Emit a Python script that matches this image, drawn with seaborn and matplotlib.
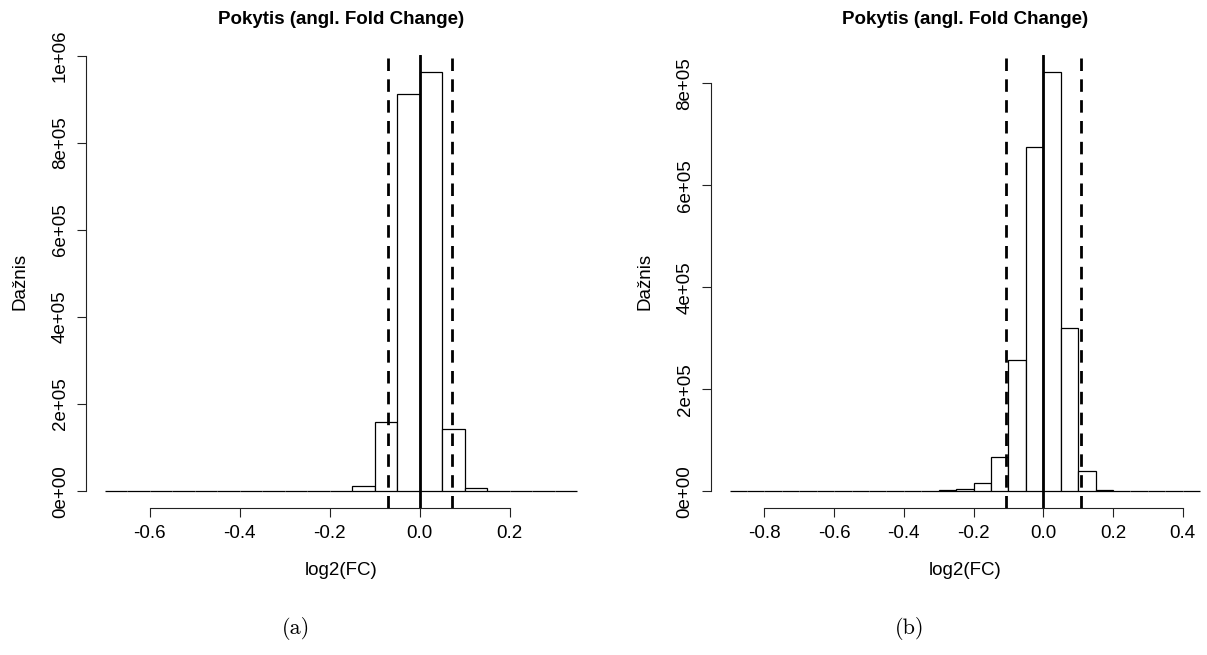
import matplotlib
matplotlib.use('Agg')
import matplotlib.pyplot as plt
import seaborn as sns

# histogram breaks and counts (bin width 0.05)
breaks_a = [-0.70, -0.65, -0.60, -0.55, -0.50, -0.45, -0.40, -0.35, -0.30, -0.25, -0.20,
            -0.15, -0.10, -0.05, 0.00, 0.05, 0.10, 0.15, 0.20, 0.25, 0.30, 0.35]
counts_a = [0, 0, 0, 0, 0, 0, 0, 0, 0, 20, 1500,
            11500, 159000, 912000, 963000, 143000, 7000, 600, 50, 0, 0]
cutoffs_a = [-0.0716, 0.0716]
xticks_a = [-0.6, -0.4, -0.2, 0.0, 0.2]
yticks_a = [0, 200000, 400000, 600000, 800000, 1000000]
ylabels_a = ['0e+00', '2e+05', '4e+05', '6e+05', '8e+05', '1e+06']

breaks_b = [-0.90, -0.85, -0.80, -0.75, -0.70, -0.65, -0.60, -0.55, -0.50, -0.45, -0.40,
            -0.35, -0.30, -0.25, -0.20, -0.15, -0.10, -0.05, 0.00, 0.05, 0.10, 0.15,
            0.20, 0.25, 0.30, 0.35, 0.40, 0.45]
counts_b = [0, 0, 0, 0, 0, 0, 0, 0, 0, 0, 0,
            100, 1500, 5300, 16500, 67500, 257000, 674500, 823000, 319600, 40000, 3300,
            300, 20, 0, 0, 0]
cutoffs_b = [-0.108, 0.108]
xticks_b = [-0.8, -0.6, -0.4, -0.2, 0.0, 0.2, 0.4]
yticks_b = [0, 200000, 400000, 600000, 800000]
ylabels_b = ['0e+00', '2e+05', '4e+05', '6e+05', '8e+05']

title = 'Pokytis (angl. Fold Change)'
xlab = 'log2(FC)'
ylab = 'Dažnis'

sns.set_style('white')
plt.rcParams['font.family'] = ['Liberation Sans', 'DejaVu Sans']
plt.rcParams['text.color'] = 'black'
plt.rcParams['axes.labelcolor'] = 'black'
plt.rcParams['xtick.color'] = 'black'
plt.rcParams['ytick.color'] = 'black'

fig = plt.figure(figsize=(12.07, 6.55), dpi=100)
W, H = 1207, 655
FS = 13.5


def panel(rect, breaks, counts, cutoffs, xticks, yticks, ylabels):
    ax = fig.add_axes([rect[0] / W, 1 - rect[3] / H, (rect[2] - rect[0]) / W, (rect[3] - rect[1]) / H])
    mids = [(breaks[i] + breaks[i + 1]) / 2 for i in range(len(counts))]
    sns.histplot(x=mids, weights=counts, bins=breaks, ax=ax, color='white',
                 edgecolor='black', linewidth=0.9, alpha=1)
    # R style 4% axis extension
    span = breaks[-1] - breaks[0]
    ax.set_xlim(breaks[0] - 0.04 * span, breaks[-1] + 0.04 * span)
    ymax = max(counts)
    ax.set_ylim(-0.04 * ymax, 1.04 * ymax)
    for c in cutoffs:
        ax.axvline(c, color='black', lw=2, ls=(0, (4.5, 3)))
    ax.axvline(0, color='black', lw=2)

    for s in ['top', 'right']:
        ax.spines[s].set_visible(False)
    ax.spines['left'].set_bounds(yticks[0], yticks[-1])
    ax.spines['bottom'].set_bounds(xticks[0], xticks[-1])
    for s in ['left', 'bottom']:
        ax.spines[s].set_color('#222222')
        ax.spines[s].set_linewidth(0.8)

    ax.set_xticks(xticks)
    ax.set_xticklabels(['%.1f' % v for v in xticks])
    ax.set_yticks(yticks)
    ax.set_yticklabels(ylabels)
    ax.tick_params(axis='both', direction='out', length=6.3, width=0.8, color='#222222',
                   labelsize=FS, pad=6, bottom=True, left=True)
    ax.tick_params(axis='y', labelrotation=90)
    for lbl in ax.get_yticklabels():
        lbl.set_va('center')

    ax.set_xlabel(xlab, fontsize=FS, va='top')
    ax.xaxis.set_label_coords(0.5, -(562 - 508) / 453)
    ax.set_ylabel(ylab, fontsize=FS, va='center')
    ax.yaxis.set_label_coords(-66 / (rect[2] - rect[0]), 0.5)
    ax.text(0.5, 1 + (55 - 19) / 453, title, transform=ax.transAxes, ha='center', va='center',
            fontsize=13.5, fontweight='bold')
    return ax


panel((86, 55, 596, 508), breaks_a, counts_a, cutoffs_a, xticks_a, yticks_a, ylabels_a)
panel((710.7, 55, 1219, 508), breaks_b, counts_b, cutoffs_b, xticks_b, yticks_b, ylabels_b)

fig.text(296 / W, 1 - 628 / H, '(a)', family='cmr10', fontsize=16, ha='center', va='center')
fig.text(910 / W, 1 - 628 / H, '(b)', family='cmr10', fontsize=16, ha='center', va='center')

plt.savefig('out.png', dpi=100)
